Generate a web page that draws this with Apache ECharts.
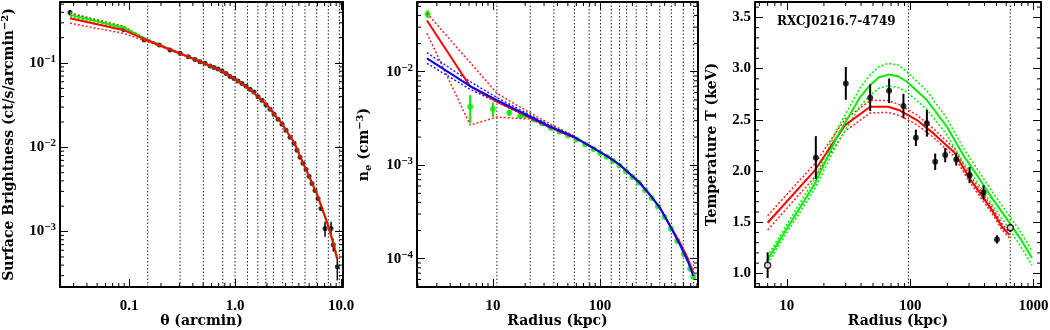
<!DOCTYPE html>
<html>
<head>
<meta charset="utf-8">
<script src="https://cdn.jsdelivr.net/npm/echarts@6/dist/echarts.min.js"></script>
<style>html,body{margin:0;padding:0;background:#fff;} #main{width:1050px;height:330px;}</style>
</head>
<body>
<div id="main"></div>
<script>
var FONT = 'Liberation Serif';
var NAMEFONT = 'DejaVu Serif';

// annulus boundaries (same bins in arcmin and kpc)
var binsArcmin = [0.150, 0.303, 0.502, 0.766, 1.0, 1.31, 1.64, 1.95, 2.30, 2.82, 3.47, 4.57, 5.90, 7.59, 9.64];
var binsKpc = [10.9, 22.3, 37.0, 57.5, 79.0, 101, 127, 152, 177, 217, 272, 360, 462, 596, 745];
var tempLines = [96.8, 647];

// surface brightness profile
var sbTheta = [0.0277, 0.0884, 0.1394, 0.1931, 0.2436, 0.3029, 0.3625, 0.4195, 0.4675, 0.5212, 0.5809, 0.6335, 0.6914, 0.7540, 0.8225, 0.8971, 0.9785, 1.067, 1.164, 1.270, 1.385, 1.511, 1.648, 1.798, 1.961, 2.139, 2.333, 2.545, 2.776, 3.028, 3.303, 3.603, 3.845, 4.105, 4.380, 4.676, 4.991, 5.326, 5.685, 6.068, 6.477, 7.065, 8.049, 8.460, 9.228];
var sbValue = [0.397, 0.252, 0.1878, 0.1638, 0.1428, 0.1304, 0.1189, 0.1101, 0.1036, 0.0992, 0.0921, 0.0884, 0.0848, 0.0803, 0.0750, 0.0691, 0.0654, 0.0611, 0.0570, 0.0532, 0.0490, 0.0452, 0.0399, 0.0363, 0.0321, 0.0283, 0.0247, 0.0215, 0.0188, 0.0159, 0.0132, 0.01115, 0.00921, 0.0076, 0.00645, 0.00547, 0.00452, 0.00373, 0.00308, 0.00247, 0.00188, 0.001086, 0.001086, 0.0007, 0.000383];
var sbErr = [0.03, 0.018, 0.006, 0.005, 0.004, 0.003, 0.003, 0.002, 0.002, 0.002, 0.002, 0.0015, 0.0015, 0.0015, 0.0015, 0.0015, 0.0012, 0.0012, 0.001, 0.001, 0.001, 0.0009, 0.0008, 0.0007, 0.0006, 0.0006, 0.0005, 0.0005, 0.0004, 0.0004, 0.0003, 0.0003, 0.00025, 0.0002, 0.0002, 0.00018, 0.00016, 0.00014, 0.00012, 0.0001, 0.0001, 0.00022, 0.00022, 0.00012, 0.00012];
var sbModelTheta = [0.0277, 0.0878, 0.1385, 0.2436, 0.4675, 0.7705, 1.0, 1.326, 1.648, 2.004, 2.384, 2.776, 3.094, 3.525, 3.845, 4.105, 4.574, 4.991, 5.937, 6.620, 7.378, 8.049, 8.590, 9.166];
var sbModelRed = [0.3403, 0.2471, 0.1931, 0.1448, 0.1042, 0.0792, 0.0645, 0.0504, 0.0399, 0.0316, 0.0240, 0.01905, 0.01529, 0.01195, 0.0096, 0.00781, 0.00578, 0.00452, 0.00276, 0.00188, 0.00128, 0.000896, 0.000663, 0.000477];
var sbModelGreen = [0.3727, 0.2646, 0.1960, 0.1452, 0.1042, 0.0792, 0.0645, 0.0504, 0.0399, 0.0316, 0.0240, 0.01905, 0.01529, 0.01195, 0.0096, 0.00781, 0.00578, 0.00455, 0.00280, 0.00192, 0.00132, 0.000930, 0.000700, 0.000510];
var sbEnvTheta = [0.0277, 0.0878, 0.1385, 0.2436, 0.4675];
var sbRedLo = [0.297, 0.2258, 0.1853, 0.1425, 0.1032];
var sbRedHi = [0.3884, 0.2720, 0.1990, 0.1468, 0.1052];
var sbGreenLo = [0.3577, 0.2574, 0.1900, 0.1440, 0.1036];
var sbGreenHi = [0.3950, 0.2740, 0.2000, 0.1470, 0.1050];

// density profile
var neR = [2.46, 6.14, 10.0, 14.2, 17.97, 19.95, 24.0, 28.8, 34.7, 41.7, 50.1, 60.3, 72.4, 87.1, 100, 114.8, 131.8, 151.4, 173.8, 199.5, 229, 263, 302, 347, 398, 457, 525, 603, 692, 741];
var neVal = [0.0414, 0.00422, 0.00399, 0.00364, 0.00336, 0.00343, 0.00309, 0.00279, 0.00250, 0.00228, 0.00208, 0.00188, 0.00167, 0.00148, 0.00135, 0.00123, 0.00111, 0.00099, 0.00086, 0.00075, 0.00065, 0.00054, 0.000445, 0.000362, 0.000279, 0.000209, 0.000155, 0.000112, 0.0000780, 0.0000640];
var neErr = [0.004, 0.0014, 0.0007, 0.0003, 0.0002, 0.0001, 0.0001, 0.00008, 0.00007, 0.00006, 0.00005, 0.00005, 0.00004, 0.00004, 0.00003, 0.00003, 0.00003, 0.00003, 0.00002, 0.00002, 0.00002, 0.000015, 0.000012, 0.00001, 0.000008, 0.000006, 0.000005, 0.000004, 0.000003, 0.000003];
var neModelR = [2.427, 6.143, 10.90, 22.27, 34.20, 56.38, 80.68, 100, 123.9, 153.6, 190.4, 236.0, 292.4, 362.4, 449.2, 556.8, 661.0, 740.5];
var neBlue = [0.01391, 0.00703, 0.00498, 0.00330, 0.00258, 0.00202, 0.001604, 0.001384, 0.001194, 0.001005, 0.000805, 0.000645, 0.00048, 0.000349, 0.000224, 0.00014, 0.0000922, 0.0000653];
var neRed = [0.03528, 0.00695, 0.0048, 0.00324, 0.00256, 0.00201, 0.0016, 0.00138, 0.00119, 0.001, 0.0008, 0.00064, 0.000478, 0.000348, 0.000225, 0.000147, 0.0000993, 0.0000703];
var neEnvR = [2.427, 6.143, 10.90, 22.27, 34.20, 56.38];
var neRedHi = [0.04213, 0.01254, 0.00587, 0.00362, 0.00276, 0.00208];
var neRedLo = [0.02574, 0.00269, 0.00327, 0.00312, 0.00250, 0.00196];
var neBlueHi = [0.01596, 0.00782, 0.0053, 0.00344, 0.00264, 0.00205];
var neBlueLo = [0.0123, 0.00648, 0.00474, 0.0032, 0.00253, 0.00199];

// temperature profile
var tR = [7.0, 17.2, 30.1, 47.4, 67.5, 88.2, 111.2, 136.6, 159.5, 192.3, 236.1, 302.7, 393, 505, 647];
var tVal = [1.08, 2.13, 2.855, 2.715, 2.783, 2.634, 2.324, 2.465, 2.09, 2.155, 2.113, 1.96, 1.791, 1.332, 1.445];
var tErr = [0.125, 0.21, 0.16, 0.13, 0.12, 0.12, 0.08, 0.13, 0.08, 0.07, 0.06, 0.08, 0.07, 0.04, 0.04];
var tOpen = [1, 0, 0, 0, 0, 0, 0, 0, 0, 0, 0, 0, 0, 0, 1];
var tRedR = [7.0, 16.96, 29.7, 47.4, 66.7, 82.6, 113.3, 154.5, 228, 297, 369.6, 459.7, 554.3, 639];
var tRed = [1.494, 2.009, 2.448, 2.627, 2.627, 2.590, 2.497, 2.367, 2.18, 1.943, 1.781, 1.618, 1.455, 1.374];
var tRedHi = [1.564, 2.074, 2.508, 2.687, 2.687, 2.645, 2.547, 2.412, 2.22, 1.978, 1.816, 1.648, 1.485, 1.404];
var tRedLo = [1.424, 1.944, 2.388, 2.567, 2.572, 2.540, 2.452, 2.327, 2.14, 1.908, 1.746, 1.588, 1.425, 1.344];
var tGreenR = [6.96, 16.96, 25.44, 39.3, 47.4, 56.0, 66.7, 80.0, 94.0, 136.6, 198.5, 270.5, 347.5, 445.5, 608.4, 780, 970.5];
var tGreen = [1.130, 1.879, 2.331, 2.722, 2.839, 2.915, 2.941, 2.925, 2.871, 2.692, 2.432, 2.15, 1.96, 1.76, 1.53, 1.34, 1.15];
var tGreenHi = [1.165, 1.929, 2.401, 2.812, 2.939, 3.020, 3.051, 3.035, 2.971, 2.782, 2.512, 2.22, 2.025, 1.825, 1.595, 1.41, 1.22];
var tGreenLo = [1.095, 1.829, 2.261, 2.632, 2.739, 2.810, 2.831, 2.815, 2.771, 2.602, 2.352, 2.08, 1.895, 1.695, 1.465, 1.27, 1.08];

// axis ranges
var p1X = [0.0223, 10.44], p1Y = [2.2e-4, 0.53];
var p2X = [1.96, 818], p2Y = [4.98e-5, 0.0557];
var p3X = [5.53, 1148], p3Y = [0.867, 3.65];

function pairs(xs, ys) {
    return xs.map(function (x, i) { return [x, ys[i]]; });
}
function triples(xs, ys, es) {
    return xs.map(function (x, i) { return [x, ys[i], es[i]]; });
}
function logMinor(min, max) {
    var out = [];
    for (var e = Math.floor(Math.log10(min)); e <= Math.ceil(Math.log10(max)); e++) {
        for (var m = 2; m <= 9; m++) {
            var v = m * Math.pow(10, e);
            if (v > min && v < max) out.push(v);
        }
    }
    return out;
}
function isPow10(v) {
    var l = Math.log10(v);
    return Math.abs(l - Math.round(l)) < 1e-6;
}

var richStyles = {
    b: {fontFamily: FONT, fontWeight: 'bold', fontSize: 15, color: '#000', lineHeight: 19},
    s: {fontFamily: FONT, fontWeight: 'bold', fontSize: 11, color: '#000', lineHeight: 11, verticalAlign: 'top'},
    nb: {fontFamily: NAMEFONT, fontWeight: 'bold', fontSize: 14, color: '#000', lineHeight: 18},
    ns: {fontFamily: NAMEFONT, fontWeight: 'bold', fontSize: 10, color: '#000', lineHeight: 10, verticalAlign: 'top'},
    nsub: {fontFamily: NAMEFONT, fontWeight: 'bold', fontSize: 10, color: '#000', lineHeight: 10, verticalAlign: 'bottom'}
};

function fmtExp(v) {
    if (!isPow10(v)) return '';
    var e = Math.round(Math.log10(v));
    return '{b|10}{s|' + (e < 0 ? '\u2212' : '') + Math.abs(e) + '}';
}
function fmtDec(v) {
    if (!isPow10(v)) return '';
    var e = Math.round(Math.log10(v));
    return Math.pow(10, e).toFixed(Math.max(1, -e));
}
function fmtInt(v) {
    if (!isPow10(v)) return '';
    return String(Math.round(v));
}
function fmtHalf(v) {
    if (Math.abs(v * 2 - Math.round(v * 2)) > 1e-6) return '';
    return v.toFixed(1);
}

function axis(type, grid, pos, range, fmt, name, gap) {
    var a = {
        type: type, gridIndex: grid, position: pos, min: range[0], max: range[1],
        axisLine: {show: true, onZero: false, lineStyle: {color: '#000', width: 2}},
        axisTick: {show: true, inside: true, length: 8, lineStyle: {color: '#000', width: 1}},
        splitLine: {show: false},
        axisLabel: {show: false}
    };
    if (fmt) {
        a.axisLabel = {
            show: true, formatter: fmt, margin: (pos === 'bottom' ? 12 : 4),
            fontFamily: FONT, fontWeight: 'bold', fontSize: 15, color: '#000',
            showMinLabel: false, showMaxLabel: false, rich: richStyles
        };
    }
    if (name) {
        a.name = name;
        a.nameLocation = 'middle';
        a.nameGap = gap;
        a.nameMoveOverlap = false;
        a.nameTextStyle = {fontFamily: NAMEFONT, fontWeight: 'bold', fontSize: 14, color: '#000', rich: richStyles};
    }
    return a;
}

function vlineItem(params, api) {
    var cs = params.coordSys;
    var x = api.coord([api.value(0), api.value(1)])[0];
    return {type: 'line', shape: {x1: x, y1: cs.y, x2: x, y2: cs.y + cs.height},
        style: {stroke: '#222', lineWidth: 1, lineDash: [1.5, 2]}};
}
function minorXItem(params, api) {
    var cs = params.coordSys;
    var x = api.coord([api.value(0), api.value(1)])[0];
    var yb = cs.y + cs.height;
    return {type: 'group', children: [
        {type: 'line', shape: {x1: x, y1: yb, x2: x, y2: yb - 4}, style: {stroke: '#000', lineWidth: 1}},
        {type: 'line', shape: {x1: x, y1: cs.y, x2: x, y2: cs.y + 4}, style: {stroke: '#000', lineWidth: 1}}
    ]};
}
function minorYItem(params, api) {
    var cs = params.coordSys;
    var y = api.coord([api.value(0), api.value(1)])[1];
    var xr = cs.x + cs.width;
    return {type: 'group', children: [
        {type: 'line', shape: {x1: cs.x, y1: y, x2: cs.x + 4, y2: y}, style: {stroke: '#000', lineWidth: 1}},
        {type: 'line', shape: {x1: xr, y1: y, x2: xr - 4, y2: y}, style: {stroke: '#000', lineWidth: 1}}
    ]};
}
function errItem(color, width) {
    return function (params, api) {
        var x = api.value(0), y = api.value(1), e = api.value(2);
        var p1 = api.coord([x, y - e]);
        var p2 = api.coord([x, y + e]);
        return {type: 'line', shape: {x1: p1[0], y1: p1[1], x2: p2[0], y2: p2[1]},
            style: {stroke: color, lineWidth: width}};
    };
}

function custom(idx, data, fn, z) {
    return {type: 'custom', xAxisIndex: idx, yAxisIndex: idx, data: data, renderItem: fn,
        silent: true, z: z, clip: false};
}
function line(idx, xs, ys, color, width, dotted, z) {
    return {type: 'line', xAxisIndex: idx, yAxisIndex: idx, data: pairs(xs, ys),
        showSymbol: false, symbol: 'none', silent: true, z: z,
        lineStyle: {color: color, width: width, type: dotted ? [2, 2] : 'solid'}};
}
function dots(idx, xs, ys, color, size, z) {
    return {type: 'scatter', xAxisIndex: idx, yAxisIndex: idx, data: pairs(xs, ys),
        symbol: 'circle', symbolSize: size, silent: true, z: z,
        itemStyle: {color: color}};
}

var series = [];
// panel 1
series.push(custom(0, binsArcmin.map(function (v) { return [v, 0.01]; }), vlineItem, 1));
series.push(custom(0, logMinor(p1X[0], p1X[1]).map(function (v) { return [v, 0.01]; }), minorXItem, 6));
series.push(custom(0, logMinor(p1Y[0], p1Y[1]).map(function (v) { return [1, v]; }), minorYItem, 6));
series.push(custom(0, triples(sbTheta, sbValue, sbErr), errItem('#000', 1.5), 2));
series.push(dots(0, sbTheta, sbValue, '#000', 5, 2));
series.push(line(0, sbEnvTheta, sbGreenHi, '#00ee00', 1.5, true, 3));
series.push(line(0, sbEnvTheta, sbGreenLo, '#00ee00', 1.5, true, 3));
series.push(line(0, sbEnvTheta, sbRedHi, '#ff2020', 1.5, true, 3));
series.push(line(0, sbEnvTheta, sbRedLo, '#ff2020', 1.5, true, 3));
series.push(line(0, sbModelTheta, sbModelGreen, '#00ee00', 2, false, 4));
series.push(line(0, sbModelTheta, sbModelRed, '#ff0000', 2, false, 5));

// panel 2
series.push(custom(2, binsKpc.map(function (v) { return [v, 0.001]; }), vlineItem, 1));
series.push(custom(2, logMinor(p2X[0], p2X[1]).map(function (v) { return [v, 0.001]; }), minorXItem, 6));
series.push(custom(2, logMinor(p2Y[0], p2Y[1]).map(function (v) { return [10, v]; }), minorYItem, 6));
series.push(custom(2, triples(neR, neVal, neErr), errItem('#00ee00', 2), 2));
series.push(dots(2, neR, neVal, '#00ee00', 6, 2));
series.push(line(2, neEnvR, neRedHi, '#ff2020', 1.5, true, 3));
series.push(line(2, neEnvR, neRedLo, '#ff2020', 1.5, true, 3));
series.push(line(2, neEnvR, neBlueHi, '#2020ff', 1.5, true, 3));
series.push(line(2, neEnvR, neBlueLo, '#2020ff', 1.5, true, 3));
series.push(line(2, neModelR, neRed, '#ff0000', 2, false, 4));
series.push(line(2, neModelR, neBlue, '#0000ff', 2, false, 5));

// panel 3
series.push(custom(4, tempLines.map(function (v) { return [v, 2]; }), vlineItem, 1));
series.push(custom(4, logMinor(p3X[0], p3X[1]).map(function (v) { return [v, 2]; }), minorXItem, 6));
var tMinor = [];
for (var k = 9; k <= 36; k++) { if (k % 5 !== 0) tMinor.push([100, k / 10]); }
series.push(custom(4, tMinor, minorYItem, 6));
series.push(line(4, tRedR, tRedHi, '#ff2020', 1.5, true, 3));
series.push(line(4, tRedR, tRedLo, '#ff2020', 1.5, true, 3));
series.push(line(4, tGreenR, tGreenHi, '#00ee00', 1.5, true, 3));
series.push(line(4, tGreenR, tGreenLo, '#00ee00', 1.5, true, 3));
series.push(line(4, tRedR, tRed, '#ff0000', 2, false, 4));
series.push(line(4, tGreenR, tGreen, '#00ee00', 2, false, 4));
series.push(custom(4, triples(tR, tVal, tErr), errItem('#000', 2), 7));
series.push({type: 'scatter', xAxisIndex: 4, yAxisIndex: 4, silent: true, z: 8, symbol: 'circle', symbolSize: 6,
    data: tR.map(function (r, i) {
        return {value: [r, tVal[i]], itemStyle: tOpen[i] ? {color: '#fff', borderColor: '#000', borderWidth: 1.5} : {color: '#000'}};
    })});

var option = {
    animation: false,
    backgroundColor: '#fff',
    title: {text: 'RXCJ0216.7-4749', left: 777, top: 16, padding: 0,
        textStyle: {fontFamily: NAMEFONT, fontWeight: 'bold', fontSize: 12, color: '#000'}},
    grid: [
        {left: 60, top: 2, width: 283, height: 285, outerBoundsMode: 'none', containLabel: false},
        {left: 417, top: 2, width: 281, height: 285, outerBoundsMode: 'none', containLabel: false},
        {left: 755, top: 2, width: 286, height: 285, outerBoundsMode: 'none', containLabel: false}
    ],
    xAxis: [
        axis('log', 0, 'bottom', p1X, fmtDec, '\u03b8 (arcmin)', 27),
        axis('log', 0, 'top', p1X, null),
        axis('log', 1, 'bottom', p2X, fmtInt, 'Radius (kpc)', 27),
        axis('log', 1, 'top', p2X, null),
        axis('log', 2, 'bottom', p3X, fmtInt, 'Radius (kpc)', 27),
        axis('log', 2, 'top', p3X, null)
    ],
    yAxis: [
        axis('log', 0, 'left', p1Y, fmtExp, '{nb|Surface Brightness (ct/s/arcmin}{ns|\u22122}{nb|)}', 42),
        axis('log', 0, 'right', p1Y, null),
        axis('log', 1, 'left', p2Y, fmtExp, '{nb|n}{nsub|e}{nb| (cm}{ns|\u22123}{nb|)}', 44),
        axis('log', 1, 'right', p2Y, null),
        axis('value', 2, 'left', p3Y, fmtHalf, 'Temperature T (keV)', 36),
        axis('value', 2, 'right', p3Y, null)
    ],
    series: series
};

var myChart = echarts.init(document.getElementById('main'));
myChart.setOption(option);
</script>
</body>
</html>
